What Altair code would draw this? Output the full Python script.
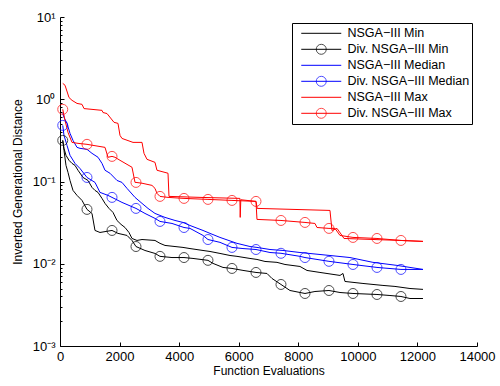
import altair as alt
import pandas as pd

# ---------------- data ----------------
SERIES = ["NSGA−III Min", "Div. NSGA−III Min", "NSGA−III Median",
          "Div. NSGA−III Median", "NSGA−III Max", "Div. NSGA−III Max"]
COLORS = ["#000000", "#000000", "#0000ff", "#0000ff", "#ff0000", "#ff0000"]
HAS_MARKERS = [False, True, False, True, False, True]

MARKER_EVALS = [92, 906, 1746, 2551, 3357, 4163, 4968, 5774, 6580, 7419,
                8225, 9030, 9836, 10642, 11447]

min_x = [92, 134, 201, 302, 403, 504, 604, 772, 940, 1074, 1175, 1276, 1410, 1511,
         1645, 1779, 1913, 2048, 2182, 2316, 2417, 2585, 2753, 3189, 3357, 3525,
         4129, 4364, 4801, 5036, 5371, 5707, 5942, 6378, 6613, 6882, 7285, 7553,
         8057, 8292, 8728, 9400, 9500, 9567, 10172, 10843, 11246, 11750, 12186]
min_y = [0.316, 0.253, 0.208, 0.181, 0.166, 0.157, 0.137, 0.112, 0.103, 0.0848,
         0.0779, 0.0737, 0.0623, 0.0542, 0.0471, 0.0421, 0.0336, 0.0301, 0.0276,
         0.0240, 0.0203, 0.0192, 0.0197, 0.0192, 0.0177, 0.0167, 0.0158, 0.0153,
         0.0145, 0.0141, 0.01335, 0.0126, 0.0123, 0.0116, 0.01128, 0.01066, 0.0104,
         0.0098, 0.00927, 0.00829, 0.00784, 0.00721, 0.00762, 0.00609, 0.00576,
         0.00545, 0.0053, 0.0050, 0.00488]

dmin_x = [92, 134, 201, 269, 336, 436, 571, 739, 906, 1074, 1175, 1343, 1544, 1746,
          1947, 2249, 2417, 2551, 2853, 3189, 3357, 3760, 4163, 4465, 4968, 5136,
          5472, 5774, 6143, 6580, 6949, 7117, 7419, 7721, 8225, 8560, 9030, 9400,
          9836, 10642, 11078, 11447, 11750, 12186]
dmin_y = [0.316, 0.239, 0.157, 0.129, 0.103, 0.078, 0.0678, 0.0589, 0.0458, 0.0409,
          0.0254, 0.0240, 0.0247, 0.0254, 0.0234, 0.0221, 0.0192, 0.0162, 0.0145,
          0.01335, 0.0123, 0.0119, 0.0119, 0.0116, 0.0110, 0.0101, 0.00902, 0.00877,
          0.0083, 0.00784, 0.00762, 0.00662, 0.0056, 0.00473, 0.00435, 0.0046,
          0.00473, 0.00447, 0.00435, 0.00423, 0.00411, 0.0040, 0.00378, 0.00378]

med_x = [92, 134, 235, 336, 436, 571, 671, 906, 1074, 1276, 1410, 1511, 1678, 1913,
         2081, 2249, 2518, 2753, 2954, 3189, 3525, 3861, 4129, 4364, 4801, 5036,
         5371, 5942, 6378, 6613, 7050, 7486, 8057, 9064, 9735, 10507, 11313, 12186]
med_y = [0.674, 0.602, 0.509, 0.385, 0.316, 0.260, 0.253, 0.246, 0.220, 0.197,
         0.166, 0.137, 0.126, 0.103, 0.0975, 0.0825, 0.0641, 0.0542, 0.0471, 0.0409,
         0.0366, 0.0336, 0.0318, 0.0292, 0.0254, 0.0234, 0.0209, 0.0177, 0.0162,
         0.0158, 0.0149, 0.0145, 0.0137, 0.0126, 0.0119, 0.0104, 0.00955, 0.00853]

dmed_x = [92, 134, 235, 336, 504, 671, 906, 1175, 1343, 1611, 1746, 2081, 2551,
          2853, 3189, 3357, 3760, 4163, 4364, 4801, 4968, 5371, 5774, 6143, 6580,
          7050, 7419, 8057, 8225, 9030, 9836, 10642, 11447, 12186]
dmed_y = [0.481, 0.364, 0.275, 0.208, 0.166, 0.144, 0.112, 0.0975, 0.0737, 0.0678,
          0.0641, 0.0557, 0.0471, 0.0409, 0.0356, 0.0327, 0.0309, 0.0276, 0.0269,
          0.0221, 0.0197, 0.0182, 0.0158, 0.0153, 0.0149, 0.0137, 0.0134, 0.0123,
          0.0119, 0.0107, 0.0098, 0.00902, 0.00853, 0.00853]

max_x = [92, 168, 302, 403, 571, 739, 806, 1410, 1443, 1578, 1813, 1947, 2014, 2081,
         2451, 2753, 2820, 2921, 3189, 3256, 3626, 3659, 4700, 6040, 6050, 6070,
         6580, 6620, 9064, 9131, 9299, 9467, 9534, 11414, 12186]
max_y = [1.56, 1.48, 1.05, 0.97, 0.89, 0.867, 0.77, 0.733, 0.69, 0.67, 0.524, 0.509,
         0.364, 0.334, 0.299, 0.299, 0.220, 0.186, 0.171, 0.137, 0.126, 0.0659,
         0.0641, 0.0623, 0.0366, 0.0600, 0.0573, 0.0471, 0.0445, 0.0254, 0.0269,
         0.0221, 0.0203, 0.0192, 0.0187]

dmax_x = [92, 168, 269, 403, 604, 906, 1108, 1511, 1611, 1746, 1846, 2014, 2417,
          2518, 2551, 2753, 3088, 3189, 3256, 3357, 3626, 4163, 4968, 5774, 6580,
          6613, 7419, 8225, 8560, 8628, 9030, 9232, 9400, 9836, 10642, 11447, 12186]
dmax_y = [0.754, 0.554, 0.395, 0.299, 0.291, 0.283, 0.275, 0.260, 0.197, 0.202,
          0.197, 0.181, 0.149, 0.0975, 0.0975, 0.0953, 0.0897, 0.0825, 0.0717,
          0.0659, 0.0641, 0.0623, 0.0606, 0.0589, 0.0573, 0.0346, 0.0336, 0.0318,
          0.0309, 0.0276, 0.0269, 0.0269, 0.0221, 0.0209, 0.0203, 0.0192, 0.0187]

X_TICKS = [0, 2000, 4000, 6000, 8000, 10000, 12000, 14000]
Y_MAJOR = [0.001, 0.01, 0.1, 1, 10]
Y_MINOR = [m * 10.0 ** e for e in range(-3, 1) for m in range(2, 10)]

# ---------------- tables ----------------
all_xy = [(min_x, min_y), (dmin_x, dmin_y), (med_x, med_y),
          (dmed_x, dmed_y), (max_x, max_y), (dmax_x, dmax_y)]
line_rows, marker_rows = [], []
for name, (xs, ys), mk in zip(SERIES, all_xy, HAS_MARKERS):
    lookup = dict(zip(xs, ys))
    for i, (xv, yv) in enumerate(zip(xs, ys)):
        line_rows.append({"series": name, "evals": xv, "igd": yv, "idx": i})
    if mk:
        for xv in MARKER_EVALS:
            marker_rows.append({"series": name, "evals": xv, "igd": lookup[xv]})
lines_df = pd.DataFrame(line_rows)
markers_df = pd.DataFrame(marker_rows)

MARKER_COLORS = [c if m else "transparent" for c, m in zip(COLORS, HAS_MARKERS)]

FONT = "Liberation Sans"

xscale = alt.Scale(domain=[0, 14000], nice=False, zero=False)
yscale = alt.Scale(type="log", domain=[0.001, 10], nice=False)
cscale = alt.Scale(range=COLORS)                       # domain from data, sorted
mscale = alt.Scale(domain=SERIES, range=MARKER_COLORS)  # explicit domain

y_label_expr = (
    "'10' + (round(log(datum.value)/LN10) == -3 ? '⁻³' : "
    "round(log(datum.value)/LN10) == -2 ? '⁻²' : "
    "round(log(datum.value)/LN10) == -1 ? '⁻¹' : "
    "round(log(datum.value)/LN10) == 0 ? '⁰' : '¹')"
)

x_axis_main = alt.Axis(orient="bottom", values=X_TICKS, ticks=False, tickSize=0,
                       domain=True, domainColor="black", labelPadding=4,
                       labelFlush=False, labelOverlap=False, format="d",
                       title="Function Evaluations", titlePadding=2, grid=False)
x_axis_ticks = alt.Axis(orient="bottom", values=X_TICKS, ticks=True, tickSize=4,
                        offset=-4, domain=False, labels=False, title=None, grid=False)
y_axis_main = alt.Axis(orient="left", values=Y_MAJOR, ticks=False, tickSize=0,
                       domain=True, domainColor="black", labelPadding=5,
                       labelOverlap=False, labelExpr=y_label_expr,
                       title="Inverted Generational Distance", titlePadding=8, grid=False)
y_axis_ticks = alt.Axis(orient="left", values=Y_MAJOR, ticks=True, tickSize=4,
                        offset=-4, domain=False, labels=False, title=None, grid=False)
y_axis_minor = alt.Axis(orient="left", values=Y_MINOR, ticks=True, tickSize=2,
                        offset=-2, domain=False, labels=False, title=None, grid=False)

common_legend = dict(title=None, orient="none", legendX=232, legendY=6, padding=2.5,
                     symbolSize=100, symbolStrokeWidth=1, symbolOffset=20.5,
                     labelOffset=20, rowPadding=0, clipHeight=15.6, labelFont=FONT,
                     labelFontSize=12.5, labelLimit=300)

line_legend = alt.Legend(strokeColor="black", fillColor="white", labelColor="black",
                         symbolType="M-4,0H4", **common_legend)
marker_legend = alt.Legend(labelColor="transparent", symbolType="circle",
                           symbolFillColor="transparent", **common_legend)

lines = alt.Chart(lines_df).mark_line(strokeWidth=1, clip=True).encode(
    x=alt.X("evals:Q", scale=xscale, axis=x_axis_main),
    y=alt.Y("igd:Q", scale=yscale, axis=y_axis_main),
    color=alt.Color("series:N", scale=cscale, sort=SERIES, legend=line_legend),
    detail="series:N",
    order="idx:Q",
)

markers = alt.Chart(markers_df).mark_point(shape="circle", filled=False, size=100,
                                           strokeWidth=1).encode(
    x=alt.X("evals:Q", scale=xscale, axis=x_axis_ticks),
    y=alt.Y("igd:Q", scale=yscale, axis=y_axis_ticks),
    stroke=alt.Stroke("series:N", scale=mscale, legend=marker_legend),
)

minor = alt.Chart(markers_df).mark_point(opacity=0).encode(
    x=alt.X("evals:Q", scale=xscale, axis=None),
    y=alt.Y("igd:Q", scale=yscale, axis=y_axis_minor),
)

chart = alt.layer(lines, minor, markers).resolve_axis(
    x="independent", y="independent"
).properties(
    width=417, height=329,
    padding={"left": 60, "top": 17, "right": 23, "bottom": 40},
    autosize=alt.AutoSizeParams(type="none"),
    background="white",
).configure_view(stroke=None).configure_axis(
    labelFont=FONT, labelFontSize=13, labelColor="black",
    titleFont=FONT, titleFontSize=12, titleColor="black", titleFontWeight="normal",
    tickColor="black", tickWidth=1, domainWidth=1,
)

chart.save("out.html", embed_options={"renderer": "svg", "actions": False})
